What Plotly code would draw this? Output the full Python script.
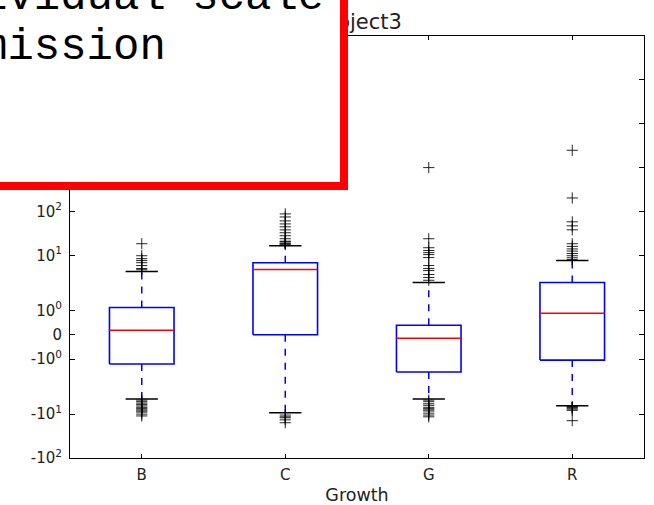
import numpy as np
import plotly.graph_objects as go

# ---------------- data ----------------
categories = ["B", "C", "G", "R"]
q1 = [-1.20, 0.0, -1.53, -1.04]
medians = [0.18, 4.73, -0.14, 0.88]
q3 = [1.12, 6.8, 0.39, 2.4]
whisker_low = [-4.49, -9.33, -4.49, -6.46]
whisker_high = [4.27, 16.6, 2.4, 7.6]

outliers_B = [18.4, 9.8, 8.4, 7.6, 6.8, 5.84, 5.0, 4.7,
              -4.8, -5.2, -5.6, -6.0, -6.5, -7.0, -7.5, -8.0, -8.5, -9.0, -10.0, -11.0]
outliers_C = [88, 75, 61, 52, 44.7, 38, 32.7, 28, 23.9, 21, 20.4, 19, 18.4, 17.5,
              -10.5, -11.5, -12.1, -13.5, -15.7]
outliers_G = [1000, 23.9, 14.9, 12.9, 11.5, 10.4, 8.9, 5.84, 5.0, 4.49, 3.65, 3.13, 2.7,
              -4.8, -5.2, -5.8, -6.3, -7.0, -7.5, -8.0, -8.5, -9.5, -10.5, -11.5]
outliers_R = [2483, 203, 58, 47, 38.2, 18.4, 16, 14, 12.5, 11, 9.8, 8.8, 8.0,
              -6.7, -7.0, -7.3, -7.7, -8.2, -14.1]
outliers = [outliers_B, outliers_C, outliers_G, outliers_R]

ytick_values = [-100, -10, -1, 0, 1, 10, 100, 1e3, 1e4, 1e5, 1e6]
ytick_labels = ["-10<sup>2</sup>", "-10<sup>1</sup>", "-10<sup>0</sup>", "0",
                "10<sup>0</sup>", "10<sup>1</sup>", "10<sup>2</sup>", "10<sup>3</sup>",
                "10<sup>4</sup>", "10<sup>5</sup>", "10<sup>6</sup>"]
y_limits = [-100, 1e6]

title_text = "Subject3"
xaxis_label = "Growth"
overlay_lines = ["ividual scale", "mission"]

# ---------------- symlog scale (linthresh=2, linscale=1, base 10) ----------------
LINTHRESH = 2.0
LINSCALE_ADJ = 1.0 / (1.0 - 1.0 / 10.0)


def symlog(v):
    v = np.asarray(v, dtype=float)
    a = np.abs(v)
    logpart = np.sign(v) * LINTHRESH * (LINSCALE_ADJ + np.log10(np.maximum(a, 1e-300) / LINTHRESH))
    return np.where(a <= LINTHRESH, v * LINSCALE_ADJ, logpart)


positions = np.arange(1, len(categories) + 1)
half_w = 0.225
cap_w = half_w / 2

box_x, box_y = [], []
med_x, med_y = [], []
wh_x, wh_y = [], []
cap_x, cap_y = [], []
out_x, out_y = [], []
for p, lo, m, hi, wl, wh, outs in zip(positions, q1, medians, q3, whisker_low, whisker_high, outliers):
    box_x += [p - half_w, p + half_w, p + half_w, p - half_w, p - half_w, None]
    box_y += list(symlog([lo, lo, hi, hi, lo])) + [None]
    med_x += [p - half_w, p + half_w, None]
    med_y += list(symlog([m, m])) + [None]
    wh_x += [p, p, None, p, p, None]
    wh_y += list(symlog([lo, wl])) + [None] + list(symlog([hi, wh])) + [None]
    cap_x += [p - cap_w, p + cap_w, None, p - cap_w, p + cap_w, None]
    cap_y += list(symlog([wl, wl])) + [None] + list(symlog([wh, wh])) + [None]
    out_x += [p] * len(outs)
    out_y += list(symlog(outs))

fig = go.Figure()
fig.add_trace(go.Scatter(x=wh_x, y=wh_y, mode="lines",
                         line=dict(color="#0000ff", width=1.5, dash="7px,7px"),
                         hoverinfo="skip", showlegend=False))
fig.add_trace(go.Scatter(x=box_x, y=box_y, mode="lines",
                         line=dict(color="#0000ff", width=1.6),
                         hoverinfo="skip", showlegend=False))
fig.add_trace(go.Scatter(x=med_x, y=med_y, mode="lines",
                         line=dict(color="#ff0000", width=1.5),
                         hoverinfo="skip", showlegend=False))
fig.add_trace(go.Scatter(x=cap_x, y=cap_y, mode="lines",
                         line=dict(color="#000000", width=1.5),
                         hoverinfo="skip", showlegend=False))
fig.add_trace(go.Scatter(x=out_x, y=out_y, mode="markers",
                         marker=dict(symbol="cross-thin", size=8,
                                     line=dict(color="rgba(0,0,0,0.85)", width=1)),
                         hoverinfo="skip", showlegend=False))

W, H = 654, 505
L, R, T, B = 70, 10, 36, 47
PW, PH = W - L - R, H - T - B


def px_x(px):
    return (px - L) / PW


def px_y(py):
    return (H - B - py) / PH


tick_font = dict(family="DejaVu Sans", size=15, color="#222222")

fig.update_layout(
    width=W, height=H,
    margin=dict(l=L, r=R, t=T, b=B, autoexpand=False),
    paper_bgcolor="white", plot_bgcolor="white",
    xaxis=dict(range=[0.5, len(categories) + 0.5], tickvals=list(positions), ticktext=categories,
               ticks="inside", ticklen=4, tickcolor="#000", tickwidth=1,
               showline=True, linecolor="#000", linewidth=1, mirror="ticks",
               showgrid=False, zeroline=False, tickfont=tick_font, ticklabelstandoff=3,
               title=dict(text=xaxis_label, font=dict(family="DejaVu Sans", size=17.5, color="#222222"),
                          standoff=8)),
    yaxis=dict(range=list(symlog(y_limits)), tickvals=list(symlog(ytick_values)), ticktext=ytick_labels,
               ticks="inside", ticklen=5, tickcolor="#000", tickwidth=1,
               showline=True, linecolor="#000", linewidth=1, mirror="ticks",
               showgrid=False, zeroline=False, tickfont=tick_font, ticklabelstandoff=4),
    annotations=[
        dict(text=title_text, xref="paper", yref="paper", x=px_x(356), y=px_y(22),
             xanchor="center", yanchor="middle", showarrow=False,
             font=dict(family="DejaVu Sans", size=21, color="#222222")),
        dict(text=" ", xref="paper", yref="paper", x=px_x(348), y=px_y(190),
             xanchor="right", yanchor="bottom", showarrow=False,
             width=362, height=234, bgcolor="white", bordercolor="#ff0000",
             borderwidth=8, borderpad=0),
        dict(text=overlay_lines[0], xref="paper", yref="paper", x=px_x(-19), y=px_y(-3),
             xanchor="left", yanchor="middle", showarrow=False, borderpad=0, borderwidth=0,
             font=dict(family="Liberation Mono", size=44, color="#000")),
        dict(text=overlay_lines[1], xref="paper", yref="paper", x=px_x(-19), y=px_y(47),
             xanchor="left", yanchor="middle", showarrow=False, borderpad=0, borderwidth=0,
             font=dict(family="Liberation Mono", size=44, color="#000")),
    ],
)

fig.write_html("out.html")
